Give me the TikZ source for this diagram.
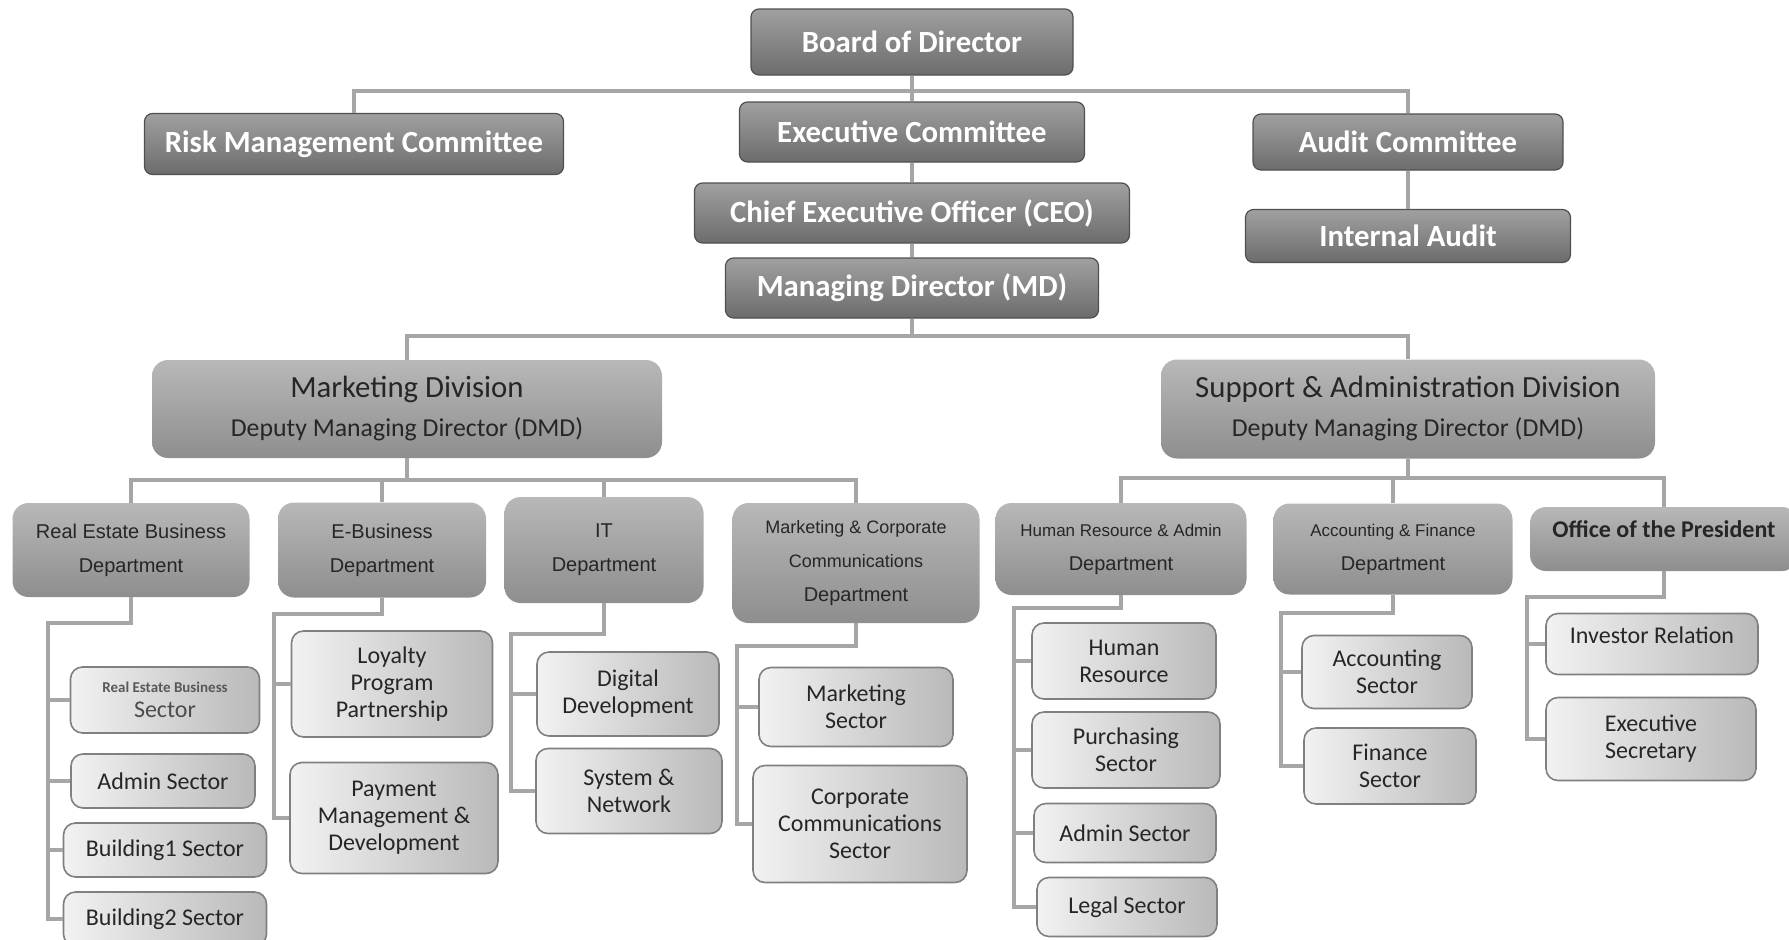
\documentclass[tikz,border=0pt]{standalone}
\usepackage{fontspec}
\setmainfont{Carlito}
\newfontfamily\arialfont{Liberation Sans}
\newcommand{\setfs}[2]{\fontsize{#1}{#2}\selectfont}

\definecolor{topA}{HTML}{A0A0A0}
\definecolor{topB}{HTML}{6C6C6C}
\definecolor{topEdge}{HTML}{505050}
\definecolor{divA}{HTML}{B8B8B8}
\definecolor{divB}{HTML}{8E8E8E}
\definecolor{secA}{HTML}{F2F2F2}
\definecolor{secB}{HTML}{B9B9B9}
\definecolor{secEdge}{HTML}{808080}
\definecolor{linkGrey}{HTML}{A6A6A6}
\definecolor{inkGrey}{HTML}{262626}

\tikzset{
  wh/.style 2 args={minimum width=#1pt, minimum height=#2pt},
  topbox/.style={draw=topEdge, line width=1.2pt, rounded corners=8pt,
    top color=topA, bottom color=topB, text=white, inner sep=0pt,
    font=\bfseries\setfs{30.8}{34}},
  divbox/.style={rounded corners=16pt, top color=divA, bottom color=divB,
    text=inkGrey, inner sep=0pt, align=center, font=\setfs{25.8}{39}},
  deptbox/.style={rounded corners=16pt, top color=divA, bottom color=divB,
    text=inkGrey, inner sep=0pt, align=center, font=\arialfont\setfs{20}{34}},
  secbox/.style={draw=secEdge, line width=1.6pt, rounded corners=12pt,
    left color=secA, right color=secB, text=inkGrey, inner sep=0pt,
    align=center, font=\setfs{24}{27}},
  link/.style={draw=linkGrey, line width=4pt}
}

\begin{document}
\begin{tikzpicture}[x=1pt, y=-1pt]
    \useasboundingbox (0,0) rectangle (1789,940);

    % Board and committees
    \node[topbox, wh={322}{66}] (board) at (912,42) {Board of Director};
    \node[topbox, wh={419}{61}] (risk) at (354,144) {Risk Management Committee};
    \node[topbox, wh={345}{60}] (exec) at (912,132) {Executive Committee};
    \node[topbox, wh={310}{56}] (audit) at (1408,142) {Audit Committee};
    \node[topbox, wh={325}{53}] (intaudit) at (1408,236) {Internal Audit};
    \node[topbox, wh={435}{60}] (ceo) at (912,213) {Chief Executive Officer (CEO)};
    \node[topbox, wh={373}{60}] (md) at (912,288) {Managing Director (MD)};

    % Divisions
    \node[divbox, wh={510}{98}] (mkt) at (407,409)
      {{\setfs{30.8}{39}Marketing Division}\\Deputy Managing Director (DMD)};
    \node[divbox, wh={494}{99}] (sup) at (1408,409)
      {{\setfs{30.8}{39}Support \& Administration Division}\\Deputy Managing Director (DMD)};

    % Departments
    \node[deptbox, wh={237}{94}] (redept) at (131,550) {Real Estate Business\\Department};
    \node[deptbox, wh={208}{95}] (ebdept) at (382,550) {E-Business\\Department};
    \node[deptbox, wh={199}{106}] (itdept) at (604,550) {IT\\Department};
    \node[deptbox, wh={247}{120}] (mcdept) at (856,563)
      {{\setfs{18}{33}Marketing \& Corporate}\\{\setfs{18}{33}Communications}\\Department};
    \node[deptbox, wh={251}{92}] (hrdept) at (1121,549)
      {{\setfs{17}{34}Human Resource \& Admin}\\Department};
    \node[deptbox, wh={239}{91}] (afdept) at (1393,549)
      {{\setfs{17}{34}Accounting \& Finance}\\Department};
    \node[deptbox, wh={268}{64}, font=\bfseries\setfs{24}{28}] (opdept) at (1664,539)
      {Office of the President\\[-9pt]};

    % Sectors
    \node[secbox, wh={189}{66}] (resec) at (165,700)
      {{\color{black!65}\bfseries\setfs{15}{20}Real Estate Business}\\[-2pt]{\color{black!70}Sector}};
    \node[secbox, wh={184}{54}] (readm) at (163,781) {Admin Sector};
    \node[secbox, wh={203}{54}] (rebld1) at (165,850) {Building1 Sector};
    \node[secbox, wh={203}{54}] (rebld2) at (165,919) {Building2 Sector};
    \node[secbox, wh={201}{106}] (loyal) at (392,684) {Loyalty\\Program\\Partnership};
    \node[secbox, wh={208}{111}] (pay) at (394,818) {Payment\\Management \&\\Development};
    \node[secbox, wh={182}{84}] (digi) at (628,694) {Digital\\Development};
    \node[secbox, wh={186}{85}] (sysnet) at (629,791) {System \&\\Network};
    \node[secbox, wh={194}{79}] (mktsec) at (856,707) {Marketing\\Sector};
    \node[secbox, wh={214}{117}] (corpsec) at (860,824) {Corporate\\Communications\\Sector};
    \node[secbox, wh={184}{76}] (hrsec) at (1124,661) {Human\\Resource};
    \node[secbox, wh={188}{76}] (pursec) at (1126,750) {Purchasing\\Sector};
    \node[secbox, wh={182}{59}] (hradm) at (1125,833) {Admin Sector};
    \node[secbox, wh={180}{59}] (legal) at (1127,907) {Legal Sector};
    \node[secbox, wh={170}{73}] (accsec) at (1387,672) {Accounting\\Sector};
    \node[secbox, wh={172}{76}] (finsec) at (1390,766) {Finance\\Sector};
    \node[secbox, wh={212}{61}] (invrel) at (1652,644) {Investor Relation\\[-10pt]};
    \node[secbox, wh={210}{83}] (execsec) at (1651,739) {Executive\\Secretary};

    % Top links
    \coordinate (topbus) at (912,91);
    \draw[link] (risk.north) |- (topbus) -| (audit.north);
    \draw[link] (board.south) -- (exec.north);
    \draw[link] (exec.south) -- (ceo.north);
    \draw[link] (ceo.south) -- (md.north);
    \draw[link] (audit.south) -- (intaudit.north);
    \coordinate (mdbus) at (912,336);
    \draw[link] (md.south) -- (mdbus);
    \draw[link] (mkt.north) |- (mdbus) -| (sup.north);

    % Division to departments
    \coordinate (mktbus) at (407,480);
    \draw[link] (mkt.south) -- (mktbus);
    \draw[link] (redept.north) |- (mktbus) -| (mcdept.north);
    \foreach \d in {ebdept,itdept} \draw[link] (\d.north) -- (\d.north |- mktbus);
    \coordinate (supbus) at (1408,478);
    \draw[link] (sup.south) -- (supbus);
    \draw[link] (hrdept.north) |- (supbus) -| (opdept.north);
    \draw[link] (afdept.north) -- (afdept.north |- supbus);

    % Department to sectors (elbow, spine, stubs)
    \coordinate (respine) at (48,623);
    \draw[link] (redept.south) |- (respine) |- (rebld2.west);
    \foreach \s in {resec,readm,rebld1} \draw[link] (respine |- \s.west) -- (\s.west);

    \coordinate (ebspine) at (274,614);
    \draw[link] (ebdept.south) |- (ebspine) |- (pay.west);
    \draw[link] (ebspine |- loyal.west) -- (loyal.west);

    \coordinate (itspine) at (511,634);
    \draw[link] (itdept.south) |- (itspine) |- (sysnet.west);
    \draw[link] (itspine |- digi.west) -- (digi.west);

    \coordinate (mcspine) at (737,646);
    \draw[link] (mcdept.south) |- (mcspine) |- (corpsec.west);
    \draw[link] (mcspine |- mktsec.west) -- (mktsec.west);

    \coordinate (hrspine) at (1014,608);
    \draw[link] (hrdept.south) |- (hrspine) |- (legal.west);
    \foreach \s in {hrsec,pursec,hradm} \draw[link] (hrspine |- \s.west) -- (\s.west);

    \coordinate (afspine) at (1281,613);
    \draw[link] (afdept.south) |- (afspine) |- (finsec.west);
    \draw[link] (afspine |- accsec.west) -- (accsec.west);

    \coordinate (opspine) at (1527,597);
    \draw[link] (opdept.south) |- (opspine) |- (execsec.west);
    \draw[link] (opspine |- invrel.west) -- (invrel.west);
\end{tikzpicture}
\end{document}
